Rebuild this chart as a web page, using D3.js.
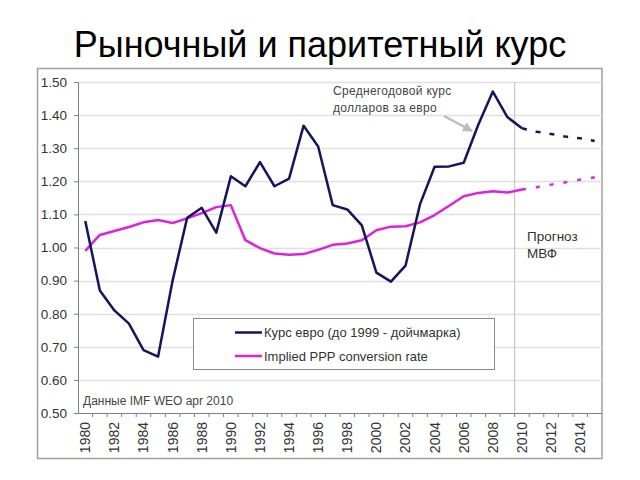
<!DOCTYPE html>
<html><head><meta charset="utf-8">
<script src="https://cdn.jsdelivr.net/npm/d3@7"></script>
<style>
html,body{margin:0;padding:0;background:#fff;}
svg{display:block;font-family:"Liberation Sans",Arial,sans-serif;}
</style></head>
<body>
<svg id="c" width="640" height="480"></svg>
<script>
const years = [1980,1981,1982,1983,1984,1985,1986,1987,1988,1989,1990,1991,1992,1993,1994,1995,1996,1997,1998,1999,2000,2001,2002,2003,2004,2005,2006,2007,2008,2009,2010,2011,2012,2013,2014,2015];
const tickYears = [1980,1982,1984,1986,1988,1990,1992,1994,1996,1998,2000,2002,2004,2006,2008,2010,2012,2014];
const yTicks = [0.5,0.6,0.7,0.8,0.9,1.0,1.1,1.2,1.3,1.4,1.5];

// Market rate (1980-2010), euro (before 1999 - Deutsche mark)
const rateYears = years.slice(0,31);
const rateValues = [1.08,0.87,0.81,0.77,0.69,0.67,0.90,1.09,1.12,1.045,1.215,1.185,1.258,1.185,1.208,1.368,1.305,1.128,1.115,1.067,0.924,0.897,0.945,1.131,1.244,1.245,1.256,1.371,1.471,1.394,1.36];
// IMF forecast (2010-2015)
const forecastYears = [2010,2011,2012,2013,2014,2015];
const rateForecast = [1.36,1.35,1.343,1.335,1.33,1.322];
// Implied PPP conversion rate
const pppValues = [0.99,1.038,1.05,1.062,1.076,1.083,1.074,1.088,1.104,1.122,1.128,1.022,0.998,0.982,0.978,0.98,0.993,1.008,1.012,1.022,1.052,1.063,1.064,1.076,1.098,1.126,1.155,1.165,1.17,1.166,1.175];
const pppForecast = [1.175,1.182,1.19,1.197,1.205,1.212];

const title = "Рыночный и паритетный курс";
const legendLabels = ["Курс евро (до 1999 - дойчмарка)","Implied PPP conversion rate"];

const svg = d3.select("#c");
const L=78, R=602, T=82, B=413;
const x = d3.scaleBand().domain(years).range([L,R]);
const y = d3.scaleLinear().domain([0.5,1.5]).range([B,T]);
const cx = d => x(d)+x.bandwidth()/2;

svg.append("text").attr("x",320).attr("y",57).attr("text-anchor","middle")
  .attr("font-size",36).attr("fill","#000").text(title);

svg.append("rect").attr("x",37.5).attr("y",68.5).attr("width",564.5).attr("height",390)
  .attr("fill","#fff").attr("stroke","#a0a0a0").attr("stroke-width",1.5);

// gridlines
svg.append("g").selectAll("line").data(yTicks.slice(1)).join("line")
  .attr("x1",L).attr("x2",R).attr("y1",d=>Math.round(y(d))+0.5).attr("y2",d=>Math.round(y(d))+0.5)
  .attr("stroke","#e0e0e0").attr("stroke-width",1.5);
// forecast separator
svg.append("line").attr("x1",x(2010)).attr("x2",x(2010)).attr("y1",T).attr("y2",B)
  .attr("stroke","#c8c8c8").attr("stroke-width",1.2);

// axes
const yAxis = svg.append("g").attr("transform",`translate(${L},0)`)
  .call(d3.axisLeft(y).tickValues(yTicks).tickFormat(d3.format(".2f")).tickSize(4).tickPadding(7));
yAxis.select(".domain").attr("stroke","#808080");
yAxis.selectAll(".tick line").attr("stroke","#808080");
yAxis.selectAll("text").attr("font-size",13.5).attr("fill","#333").attr("font-family","Liberation Sans, Arial, sans-serif");

const xAxis = svg.append("g").attr("transform",`translate(0,${B})`)
  .call(d3.axisBottom(x).tickValues(tickYears).tickSize(0).tickPadding(0));
xAxis.select(".domain").attr("stroke","#808080");
xAxis.selectAll("text").attr("font-size",14).attr("fill","#333").attr("font-family","Liberation Sans, Arial, sans-serif")
  .attr("transform","rotate(-90)").attr("text-anchor","end").attr("dy","0.35em").attr("x",-9).attr("y",0);
// category boundary ticks
svg.append("g").selectAll("line").data(years.slice(1)).join("line")
  .attr("x1",d=>x(d)).attr("x2",d=>x(d)).attr("y1",B).attr("y2",B+4).attr("stroke","#808080");

const line = d3.line().x(d=>cx(d[0])).y(d=>y(d[1]));
const navy = "#141460", pink = "#e020e0";
svg.append("path").datum(d3.zip(rateYears,pppValues)).attr("d",line)
  .attr("fill","none").attr("stroke",pink).attr("stroke-width",2.5).attr("stroke-linejoin","round");
svg.append("path").datum(d3.zip(forecastYears,pppForecast)).attr("d",line)
  .attr("fill","none").attr("stroke",pink).attr("stroke-width",2.5).attr("stroke-dasharray","4,10");
svg.append("path").datum(d3.zip(rateYears,rateValues)).attr("d",line)
  .attr("fill","none").attr("stroke",navy).attr("stroke-width",2.5).attr("stroke-linejoin","round");
svg.append("path").datum(d3.zip(forecastYears,rateForecast)).attr("d",line)
  .attr("fill","none").attr("stroke",navy).attr("stroke-width",2.5).attr("stroke-dasharray","5,9");

// annotation
svg.append("defs").append("marker").attr("id","ah").attr("viewBox","0 0 10 10").attr("refX",9).attr("refY",5)
  .attr("markerWidth",4).attr("markerHeight",4).attr("orient","auto")
  .append("path").attr("d","M0,0L10,5L0,10z").attr("fill","#bdbdbd");
svg.append("line").attr("x1",444).attr("y1",116).attr("x2",472).attr("y2",131)
  .attr("stroke","#bdbdbd").attr("stroke-width",2.5).attr("marker-end","url(#ah)");
const ann = svg.append("text").attr("font-size",12).attr("fill","#444").attr("letter-spacing",0.3);
ann.append("tspan").attr("x",333).attr("y",95).text("Среднегодовой курс");
ann.append("tspan").attr("x",333).attr("y",112).text("долларов за евро");

const fc = svg.append("text").attr("font-size",13.5).attr("fill","#333");
fc.append("tspan").attr("x",527).attr("y",241).text("Прогноз");
fc.append("tspan").attr("x",527).attr("y",258).text("МВФ");

svg.append("text").attr("x",83).attr("y",405).attr("font-size",12).attr("fill","#444").text("Данные IMF WEO apr 2010");

// legend
const lg = svg.append("g");
lg.append("rect").attr("x",193.5).attr("y",318.5).attr("width",301).attr("height",51)
  .attr("fill","#fff").attr("stroke","#8a8a8a");
[[navy,332.5],[pink,356]].forEach((c,i)=>{
  lg.append("line").attr("x1",235).attr("x2",262).attr("y1",c[1]).attr("y2",c[1]).attr("stroke",c[0]).attr("stroke-width",2.5);
  lg.append("text").attr("x",264).attr("y",c[1]+4.5).attr("font-size",13).attr("fill","#333").text(legendLabels[i]);
});
</script>
</body></html>
